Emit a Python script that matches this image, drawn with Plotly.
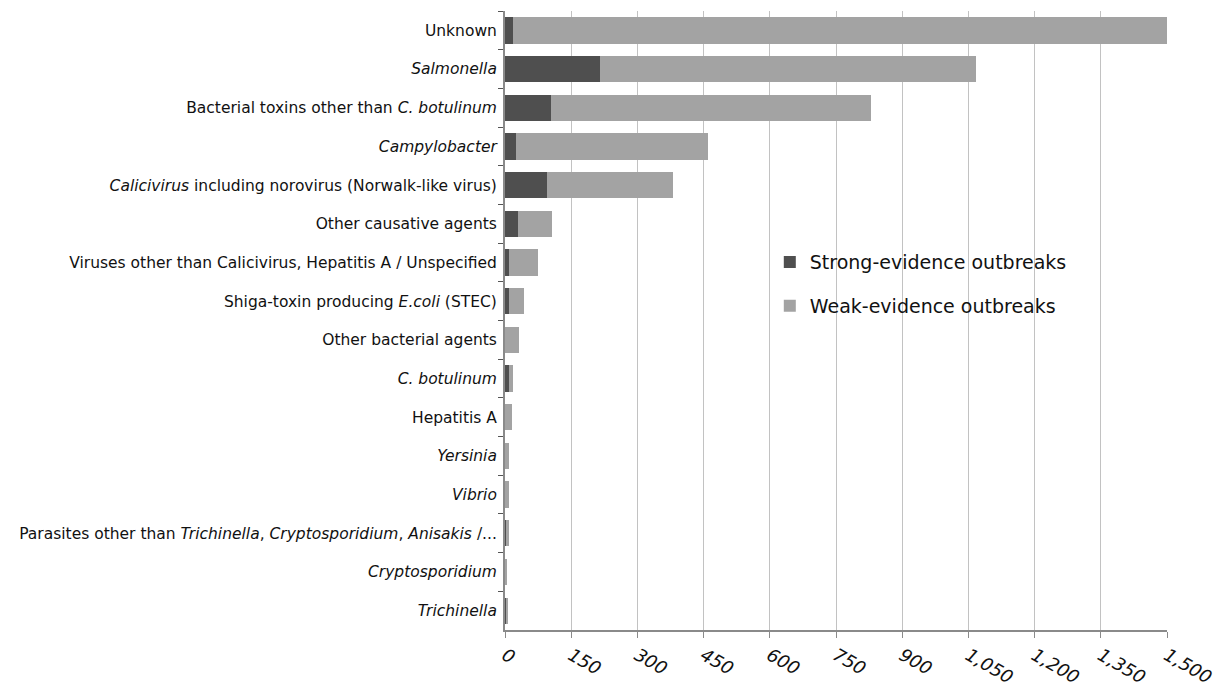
import plotly.graph_objects as go

categories = [
    "Unknown",
    "<i>Salmonella</i>",
    "Bacterial toxins other than <i>C. botulinum</i>",
    "<i>Campylobacter</i>",
    "<i>Calicivirus</i> including norovirus (Norwalk-like virus)",
    "Other causative agents",
    "Viruses other than Calicivirus, Hepatitis A / Unspecified",
    "Shiga-toxin producing <i>E.coli</i> (STEC)",
    "Other bacterial agents",
    "<i>C. botulinum</i>",
    "Hepatitis A",
    "<i>Yersinia</i>",
    "<i>Vibrio</i>",
    "Parasites other than <i>Trichinella</i>, <i>Cryptosporidium</i>, <i>Anisakis</i> /...",
    "<i>Cryptosporidium</i>",
    "<i>Trichinella</i>",
]
strong = [17, 216, 105, 26, 96, 30, 10, 10, 1, 8, 1, 1, 1, 2, 1, 4]
total = [1500, 1067, 829, 461, 380, 106, 75, 43, 32, 17, 16, 8, 8, 8, 5, 5]
weak = [t - s for t, s in zip(total, strong)]

font = "DejaVu Sans, Verdana, sans-serif"

fig = go.Figure()
fig.add_trace(go.Bar(y=categories, x=strong, orientation="h",
                     name="Strong-evidence outbreaks", legendgroup="a",
                     marker=dict(color="#4f4f4f", line=dict(width=0))))
fig.add_trace(go.Bar(y=categories, x=weak, orientation="h",
                     name="Weak-evidence outbreaks", legendgroup="b",
                     marker=dict(color="#a3a3a3", line=dict(width=0))))

# page body adds an 8px offset, margins compensate for it
fig.update_layout(
    barmode="stack", bargap=0.32,
    width=1222, height=690,
    margin=dict(l=497, r=63, t=3, b=68),
    plot_bgcolor="white", paper_bgcolor="white",
    font=dict(family=font, size=15.5, color="#111111"),
    legend=dict(x=0.40, y=0.625, xanchor="left", yanchor="top",
                traceorder="grouped", font=dict(size=19),
                bgcolor="rgba(0,0,0,0)", tracegroupgap=16),
    showlegend=True,
)
fig.update_xaxes(range=[0, 1500], dtick=150, tickformat=",",
                 tickangle=30, showgrid=True, gridcolor="#c2c2c2",
                 gridwidth=1, showline=True, linecolor="#8a8a8a",
                 linewidth=2, ticks="outside", tickcolor="#8a8a8a",
                 ticklen=6, zeroline=False, automargin=False,
                 tickfont=dict(size=18, family=font, style="italic"))
fig.update_yaxes(autorange="reversed", showline=True, linecolor="#8a8a8a",
                 linewidth=2, ticks="outside", tickcolor="#555555",
                 ticklen=5, tickson="boundaries", showgrid=False,
                 ticklabelstandoff=3, automargin=False)

fig.write_html("out.html")
